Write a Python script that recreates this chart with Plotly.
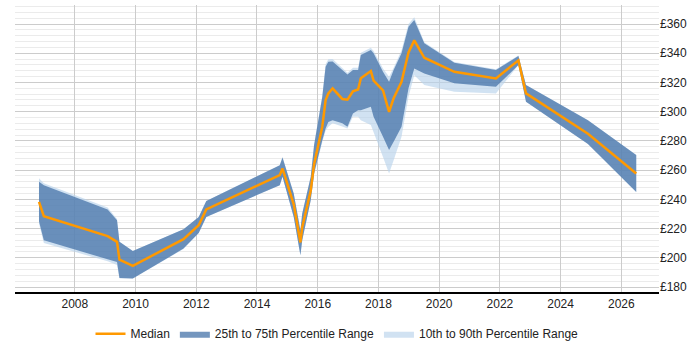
import plotly.graph_objects as go

years = [2006.82, 2006.98, 2009.08, 2009.39, 2009.47, 2009.91, 2011.58, 2012.08, 2012.33, 2014.75,
         2014.84, 2015.21, 2015.43, 2015.49, 2015.77, 2015.88, 2016.15, 2016.26, 2016.35, 2016.49,
         2016.81, 2016.98, 2017.16, 2017.33, 2017.42, 2017.75, 2017.84, 2018.15, 2018.35, 2018.50,
         2018.76, 2018.99, 2019.18, 2019.51, 2020.50, 2021.87, 2022.61, 2022.86, 2024.90, 2026.49]

median = [238.3, 228.5, 214.8, 210.9, 198.8, 194.5, 212.8, 222.3, 233.1, 256.6,
          261.1, 236.6, 210.5, 221.0, 246.0, 264.0, 289.7, 308.0, 312.5, 316.0,
          308.7, 308.2, 314.0, 315.2, 322.8, 327.8, 321.2, 314.6, 299.9, 309.2,
          320.5, 340.5, 348.8, 336.9, 327.3, 322.8, 335.1, 312.5, 284.9, 257.7]

p75 = [252.0, 249.7, 233.0, 225.7, 211.0, 204.6, 219.6, 228.0, 238.9, 263.4,
       268.7, 244.0, 218.9, 230.3, 255.4, 277.0, 310.0, 330.8, 334.2, 334.4,
       328.5, 325.5, 328.5, 328.5, 338.8, 342.2, 340.0, 327.3, 320.5, 328.5,
       340.0, 358.2, 362.7, 346.8, 333.5, 328.5, 338.1, 318.2, 294.2, 270.3]

p25 = [225.0, 212.0, 199.0, 197.2, 186.2, 185.8, 206.3, 217.0, 228.0, 249.7,
       255.4, 228.0, 201.8, 212.0, 239.4, 257.7, 280.5, 288.5, 293.0, 294.2,
       292.0, 289.7, 298.8, 301.0, 301.0, 303.4, 296.5, 282.8, 273.7, 279.4,
       289.7, 316.0, 329.6, 326.2, 319.4, 317.0, 331.9, 306.8, 277.8, 245.1]

p90 = [254.5, 251.0, 234.5, 226.5, 211.0, 204.6, 219.6, 228.0, 238.9, 263.4,
       269.0, 244.0, 218.9, 230.3, 255.4, 277.5, 311.0, 332.5, 335.8, 336.0,
       329.9, 326.6, 330.0, 330.0, 340.4, 343.8, 341.5, 329.6, 323.9, 330.0,
       342.0, 360.0, 364.6, 347.5, 334.0, 329.0, 338.5, 318.2, 294.2, 270.3]

p10 = [223.5, 210.2, 197.6, 195.0, 186.0, 185.8, 206.0, 217.0, 228.0, 249.7,
       255.4, 228.0, 201.8, 212.0, 239.4, 257.0, 279.0, 287.0, 289.6, 292.0,
       289.8, 288.5, 296.5, 296.5, 294.2, 290.8, 285.1, 269.0, 257.7, 266.8,
       282.8, 310.2, 325.0, 318.2, 313.6, 312.5, 331.9, 306.8, 277.8, 245.1]

x_ticks = [2008, 2010, 2012, 2014, 2016, 2018, 2020, 2022, 2024, 2026]
y_ticks = [180, 200, 220, 240, 260, 280, 300, 320, 340, 360]

fig = go.Figure()

fig.add_trace(go.Scatter(
    x=years + years[::-1], y=p90 + p10[::-1], fill="toself",
    fillcolor="rgba(185,210,235,0.65)", line=dict(width=0),
    name="10th to 90th Percentile Range", hoverinfo="skip", legendrank=3))

fig.add_trace(go.Scatter(
    x=years + years[::-1], y=p75 + p25[::-1], fill="toself",
    fillcolor="rgba(70,115,168,0.75)", line=dict(width=0),
    name="25th to 75th Percentile Range", hoverinfo="skip", legendrank=2))

fig.add_trace(go.Scatter(
    x=years, y=median, mode="lines", line=dict(color="#ff9900", width=2.5),
    name="Median", legendrank=1))

fig.update_layout(
    width=700, height=350,
    margin=dict(l=15, r=41, t=5, b=58, autoexpand=False),
    paper_bgcolor="white", plot_bgcolor="white",
    font=dict(family="Liberation Sans, Arial, sans-serif", size=12, color="#222"),
    showlegend=True,
    legend=dict(orientation="h", x=0.5, xanchor="center", y=-0.095, yanchor="top",
                font=dict(size=12), traceorder="normal", itemwidth=30),
    xaxis=dict(range=[2006.03, 2027.24], tickvals=x_ticks,
               ticktext=[str(t) for t in x_ticks],
               showgrid=True, gridcolor="#cccccc", gridwidth=1,
               showline=True, linecolor="black", linewidth=1.5,
               zeroline=False, ticks="", ticklen=0),
    yaxis=dict(range=[176.6, 373], side="right", tickvals=y_ticks,
               ticktext=["£" + str(t) for t in y_ticks],
               showgrid=True, gridcolor="#cccccc", gridwidth=1,
               zeroline=False, showline=False, ticks="",
               minor=dict(dtick=4, tick0=180, showgrid=True, gridcolor="#ebebeb", gridwidth=1)),
)

fig.write_html("out.html")
